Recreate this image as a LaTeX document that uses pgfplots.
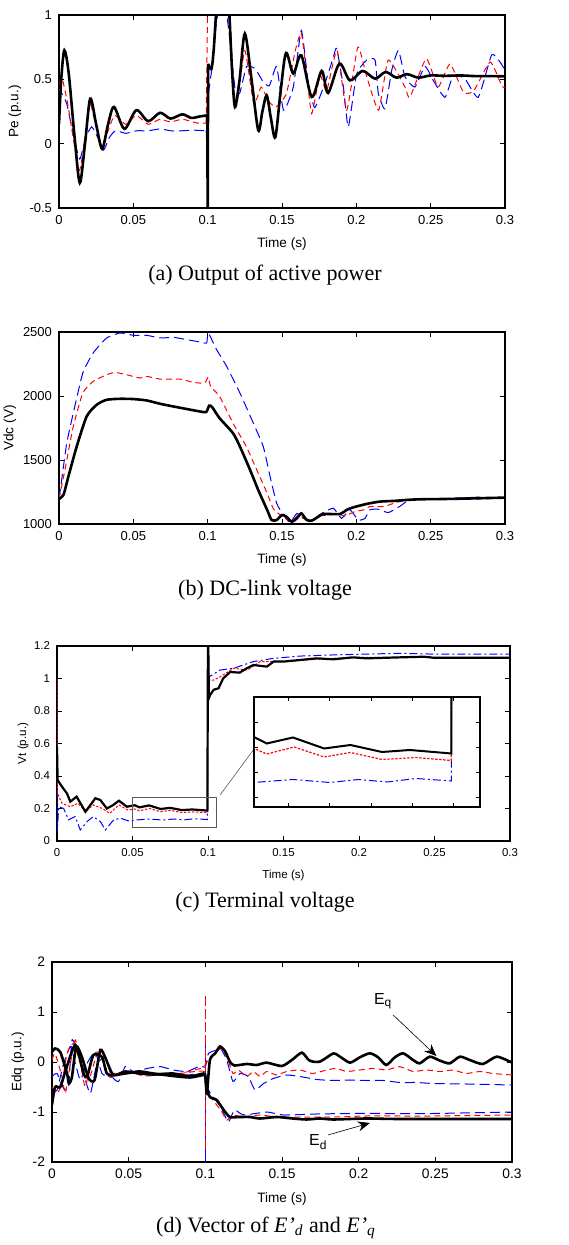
\documentclass[border=0pt]{standalone}
\usepackage{fontspec}
\setmainfont{Liberation Serif}
\newfontfamily\arial{Liberation Sans}
\usepackage{pgfplots}
\usepackage{pgfplotstable}
\pgfplotsset{compat=1.18}
\usetikzlibrary{arrows.meta}

% panel (c) series, reused in the inset
\pgfplotstableread{
t v
0 0.58
0.0004 0.375
0.0033 0.334
0.0066 0.293
0.0088 0.242
0.013 0.273
0.0188 0.18
0.0254 0.263
0.0287 0.252
0.033 0.2
0.037 0.22
0.041 0.248
0.0463 0.211
0.0515 0.22
0.0546 0.207
0.061 0.219
0.0686 0.197
0.075 0.204
0.0827 0.19
0.0895 0.194
0.0996 0.187
0.1 1.35
0.1006 0.88
0.1015 0.9
0.1037 0.93
0.107 0.94
0.11 1.0
0.1147 1.04
0.121 1.036
0.1257 1.063
0.13 1.083
0.139 1.073
0.1434 1.104
0.15 1.104
0.161 1.114
0.172 1.124
0.183 1.118
0.196 1.13
0.205 1.124
0.227 1.13
0.243 1.134
0.249 1.128
0.3 1.128
}\vtblack
\pgfplotstableread{
t v
0 1.0
0.0003 0.293
0.0033 0.232
0.0088 0.211
0.014 0.232
0.0188 0.18
0.024 0.222
0.03 0.2
0.035 0.17
0.041 0.222
0.047 0.19
0.0515 0.197
0.0546 0.186
0.0613 0.2
0.0686 0.18
0.075 0.189
0.0827 0.175
0.091 0.179
0.0996 0.173
0.1 1.3
0.1006 0.99
0.1037 0.99
0.108 1.01
0.117 1.063
0.126 1.052
0.1346 1.104
0.15 1.104
0.172 1.118
0.194 1.13
0.3 1.13
}\vtred
\pgfplotstableread{
t v
0 1.0
0.0003 0.068
0.0011 0.211
0.0044 0.2
0.0077 0.13
0.012 0.15
0.0154 0.068
0.02 0.12
0.024 0.15
0.0287 0.12
0.032 0.068
0.0375 0.13
0.042 0.14
0.0485 0.12
0.0515 0.129
0.0546 0.131
0.061 0.135
0.07 0.129
0.077 0.135
0.084 0.13
0.091 0.137
0.0996 0.132
0.1 1.3
0.1006 1.01
0.108 1.052
0.117 1.063
0.13 1.104
0.1434 1.124
0.161 1.138
0.183 1.145
0.205 1.15
0.227 1.155
0.249 1.15
0.3 1.15
}\vtblue

\pgfplotsset{
  mat/.style={
    scale only axis, anchor=south west,
    xmin=0, xmax=0.3,
    xtick={0,0.05,0.1,0.15,0.2,0.25,0.3},
    tick align=inside, major tick length=2.5pt,
    axis line style={line width=0.6pt},
    every tick/.style={black, line width=0.4pt},
    scaled ticks=false,
    /pgf/number format/fixed,
    /pgf/number format/1000 sep={},
    /pgf/number format/assume math mode=true,
    tick label style={font=\arial\fontsize{6.5}{7}\selectfont},
    label style={font=\arial\fontsize{6.8}{8}\selectfont},
    xlabel={Time (s)},
  },
  ylab/.style={ylabel style={at={(axis description cs:#1,0.5)}, anchor=center}},
  blk/.style={black, line width=1.3pt},
  rd/.style={red, line width=0.5pt, dash pattern=on 3pt off 2pt},
  bl/.style={blue, line width=0.5pt, dash pattern=on 5pt off 2.5pt},
}

\begin{document}
\begin{tikzpicture}
\useasboundingbox (0,0) rectangle (284pt,622.5pt);

% ---------------- (a)
\begin{axis}[mat, at={(29.5pt,518.5pt)}, width=223pt, height=96.5pt,
  ymin=-0.5, ymax=1, ytick={-0.5,0,0.5,1}, ylabel={Pe (p.u.)}, ylab=-0.099]
\addplot[bl, smooth, tension=0.3] coordinates {(0,0.45)(0.0015,0.4)(0.0052,0.31)(0.01,0.05)(0.014,-0.12)(0.018,0.05)(0.022,0.13)(0.026,0.05)(0.03,-0.05)(0.034,0.05)(0.038,0.10)(0.045,0.08)(0.052,0.10)(0.06,0.10)(0.068,0.115)(0.075,0.10)(0.083,0.10)(0.09,0.105)(0.099,0.1)};
\addplot[bl] coordinates {(0.099,0.1)(0.1,-0.15)(0.1005,0.39)};
\addplot[bl, smooth, tension=0.3] coordinates {(0.1005,0.39)(0.103,0.6)(0.106,0.95)(0.11,1.2)(0.114,0.9)(0.1184,0.43)(0.1215,0.39)(0.1262,0.6)(0.132,0.58)(0.1374,0.48)(0.1415,0.45)(0.1464,0.6)(0.151,0.26)(0.1576,0.44)(0.163,0.88)(0.1677,0.47)(0.172,0.28)(0.1789,0.47)(0.1845,0.67)(0.1868,0.74)(0.1913,0.44)(0.1946,0.13)(0.2002,0.54)(0.207,0.65)(0.2126,0.65)(0.2148,0.39)(0.2193,0.27)(0.2238,0.57)(0.2283,0.725)(0.2327,0.52)(0.2394,0.44)(0.2462,0.6)(0.2518,0.49)(0.2596,0.36)(0.2652,0.53)(0.273,0.505)(0.282,0.36)(0.291,0.69)(0.2966,0.635)(0.3,0.57)};
\addplot[rd, smooth, tension=0.3] coordinates {(0,0.3)(0.0008,0.5)(0.0025,0.49)(0.006,0.3)(0.0135,-0.21)(0.0175,0.05)(0.021,0.31)(0.0255,0.1)(0.029,-0.03)(0.033,0.1)(0.0375,0.22)(0.045,0.15)(0.052,0.22)(0.060,0.15)(0.068,0.19)(0.075,0.168)(0.083,0.19)(0.093,0.16)(0.099,0.16)};
\addplot[rd] coordinates {(0.099,0.16)(0.1,1.1)(0.1005,1.1)};
\addplot[rd, smooth, tension=0.3] coordinates {(0.1005,1.1)(0.105,1.3)(0.11,1.4)(0.1146,1.1)(0.1173,0.44)(0.12,0.34)(0.125,0.725)(0.131,0.31)(0.136,0.44)(0.141,0.33)(0.146,0.285)(0.153,0.39)(0.159,0.725)(0.163,0.86)(0.167,0.5)(0.17,0.233)(0.1756,0.53)(0.18,0.41)(0.187,0.725)(0.1935,0.26)(0.201,0.75)(0.207,0.52)(0.215,0.26)(0.2215,0.65)(0.2327,0.44)(0.236,0.36)(0.247,0.66)(0.255,0.44)(0.263,0.62)(0.272,0.40)(0.279,0.41)(0.29,0.635)(0.298,0.445)(0.3,0.44)};
\addplot[blk, smooth] coordinates {(0,0.15)(0.0015,0.5)(0.0036,0.725)(0.0065,0.55)(0.0105,0.05)(0.014,-0.305)(0.0175,0.0)(0.021,0.35)(0.025,0.15)(0.029,-0.04)(0.033,0.15)(0.037,0.285)(0.044,0.115)(0.052,0.26)(0.060,0.175)(0.068,0.24)(0.075,0.195)(0.083,0.228)(0.089,0.2)(0.095,0.212)(0.0998,0.22)};
\addplot[blk] coordinates {(0.0998,0.22)(0.1,-0.6)(0.1003,0.62)};
\addplot[blk, smooth] coordinates {(0.1003,0.62)(0.1025,0.58)(0.104,0.72)(0.1056,1.0)(0.108,1.35)(0.111,1.4)(0.1135,1.2)(0.1146,1.0)(0.1165,0.55)(0.1184,0.285)(0.1215,0.5)(0.125,0.855)(0.1295,0.5)(0.134,0.105)(0.1368,0.25)(0.1397,0.375)(0.1425,0.2)(0.1455,0.05)(0.149,0.4)(0.1527,0.705)(0.1576,0.545)(0.163,0.686)(0.170,0.363)(0.1767,0.565)(0.181,0.394)(0.1886,0.622)(0.1957,0.492)(0.2043,0.565)(0.2126,0.505)(0.2197,0.557)(0.227,0.513)(0.234,0.54)(0.2417,0.513)(0.25,0.53)(0.26,0.527)(0.27,0.53)(0.28,0.525)(0.29,0.525)(0.3,0.523)};
\end{axis}
\node[font=\fontsize{11}{13}\selectfont] at (132.5pt,485pt) {(a) Output of active power};

% ---------------- (b)
\begin{axis}[mat, at={(29.5pt,360.5pt)}, width=223pt, height=96pt,
  ymin=1000, ymax=2500, ytick={1000,1500,2000,2500}, ylabel={Vdc (V)}, ylab=-0.110]
\addplot[bl, smooth, tension=0.3] coordinates {(0,1196)(0.0018,1344)(0.0052,1631)(0.0096,1866)(0.016,2179)(0.023,2336)(0.032,2453)(0.041,2492)(0.05,2474)(0.059,2474)(0.068,2453)(0.077,2458)(0.086,2440)(0.0948,2422)(0.0993,2414)(0.1004,2492)(0.106,2362)(0.1128,2231)(0.1217,2023)(0.1307,1788)(0.1374,1605)(0.142,1370)(0.1464,1162)(0.151,1070)(0.1554,1010)(0.16,1083)(0.1643,1044)(0.17,1026)(0.1767,1083)(0.1845,1123)(0.19,1044)(0.1957,1110)(0.2013,1031)(0.2058,1044)(0.209,1110)(0.2148,1115)(0.2215,1089)(0.229,1136)(0.236,1188)(0.252,1193)(0.281,1209)(0.3,1201)};
\addplot[rd, smooth, tension=0.3] coordinates {(0,1196)(0.004,1423)(0.0096,1762)(0.016,2023)(0.023,2114)(0.032,2166)(0.0377,2184)(0.0455,2166)(0.0545,2140)(0.059,2153)(0.068,2132)(0.0814,2132)(0.0904,2106)(0.098,2101)(0.1004,2148)(0.102,2075)(0.108,1997)(0.117,1788)(0.126,1605)(0.133,1423)(0.14,1240)(0.144,1123)(0.1475,1083)(0.152,1044)(0.1565,1018)(0.161,1070)(0.165,1044)(0.17,1031)(0.1756,1063)(0.182,1070)(0.1868,1083)(0.192,1063)(0.1991,1097)(0.2047,1110)(0.209,1136)(0.216,1136)(0.22,1141)(0.229,1175)(0.243,1193)(0.274,1193)(0.3,1201)};
\addplot[blk, smooth, tension=0.4] coordinates {(0,1196)(0.003,1227)(0.0063,1370)(0.0119,1605)(0.0186,1840)(0.0253,1931)(0.032,1970)(0.041,1978)(0.05,1976)(0.059,1965)(0.068,1939)(0.077,1918)(0.086,1898)(0.0948,1879)(0.099,1874)(0.101,1924)(0.103,1913)(0.108,1827)(0.117,1710)(0.1217,1605)(0.1285,1423)(0.134,1266)(0.14,1110)(0.143,1031)(0.1464,1031)(0.15,1070)(0.153,1057)(0.1565,1018)(0.16,1044)(0.163,1083)(0.1666,1031)(0.17,1026)(0.1744,1057)(0.1778,1078)(0.189,1078)(0.1935,1110)(0.198,1130)(0.207,1157)(0.216,1175)(0.225,1180)(0.234,1188)(0.243,1193)(0.263,1196)(0.3,1206)};
\end{axis}
\node[font=\fontsize{11}{13}\selectfont] at (132.5pt,327.5pt) {(b) DC-link voltage};

% ---------------- (c)
\begin{axis}[mat, at={(28.5pt,202pt)}, width=226.5pt, height=97.5pt,
  ymin=0, ymax=1.2, ytick={0,0.2,0.4,0.6,0.8,1,1.2}, ylabel={Vt (p.u.)}, ylab=-0.075,
  tick label style={font=\arial\fontsize{5.7}{6}\selectfont},
  label style={font=\arial\fontsize{5.8}{7}\selectfont}]
\addplot[blue, line width=0.5pt, dash pattern=on 4pt off 1.5pt on 1pt off 1.5pt] table[x=t,y=v] {\vtblue};
\addplot[red, line width=0.5pt, dash pattern=on 1.2pt off 0.8pt] table[x=t,y=v] {\vtred};
\addplot[black, line width=1.1pt] table[x=t,y=v] {\vtblack};
\draw[gray!70!black, line width=0.5pt] (axis cs:0.05,0.08) rectangle (axis cs:0.1055,0.27);
\draw[gray!70!black, line width=0.3pt] (axis cs:0.108,0.283) -- (axis cs:0.1305,0.566);
\end{axis}
\begin{axis}[at={(127pt,219pt)}, anchor=south west, scale only axis,
  width=113pt, height=55pt, xmin=0.0515, xmax=0.1066, ymin=0.08, ymax=0.30,
  xtick={0.06,0.07,0.08,0.09,0.1}, ytick={0.1,0.15,0.2,0.25},
  xticklabels={}, yticklabels={}, tick align=inside, major tick length=2pt,
  axis line style={line width=0.6pt}, every tick/.style={black, line width=0.4pt},
  axis background/.style={fill=white}]
\addplot[blue, line width=0.5pt, dash pattern=on 4pt off 1.5pt on 1pt off 1.5pt] table[x=t,y=v] {\vtblue};
\addplot[red, line width=0.6pt, dash pattern=on 1.2pt off 0.8pt] table[x=t,y=v] {\vtred};
\addplot[black, line width=1pt] table[x=t,y=v] {\vtblack};
\end{axis}
\node[font=\fontsize{11}{13}\selectfont] at (132.5pt,171.5pt) {(c) Terminal voltage};

% ---------------- (d)
\begin{axis}[mat, at={(26pt,41.5pt)}, width=230pt, height=100pt,
  ymin=-2, ymax=2, ytick={-2,-1,0,1,2}, ylabel={Edq (p.u.)}, ylab=-0.074,
  tick label style={font=\arial\fontsize{6.9}{7}\selectfont}]
% E_q group
\addplot[bl, smooth, tension=0.3] coordinates {(0,-0.29)(0.0033,-0.23)(0.0076,-0.53)(0.0108,-0.5)(0.013,0.44)(0.0174,0.17)(0.0206,-0.23)(0.025,-0.63)(0.0293,-0.03)(0.0347,0.07)(0.039,-0.29)(0.0434,-0.39)(0.0478,-0.09)(0.053,-0.19)(0.062,-0.13)(0.0705,-0.09)(0.079,-0.16)(0.088,-0.19)(0.0966,-0.08)(0.1,-0.1)(0.102,0.17)(0.1074,0.24)(0.11,0.27)(0.114,0.04)(0.118,-0.39)(0.1226,-0.23)(0.128,-0.29)(0.1324,-0.56)(0.138,-0.43)(0.1443,-0.33)(0.153,-0.26)(0.1617,-0.29)(0.1726,-0.35)(0.1834,-0.37)(0.194,-0.36)(0.205,-0.37)(0.216,-0.37)(0.2268,-0.41)(0.2377,-0.41)(0.2485,-0.43)(0.27,-0.44)(0.3,-0.46)};
\addplot[rd, smooth, tension=0.3] coordinates {(0,0.04)(0.002,0.17)(0.0065,-0.29)(0.0087,-0.63)(0.012,-0.03)(0.0152,0.44)(0.0195,-0.03)(0.024,-0.36)(0.0293,0.17)(0.0326,0.1)(0.037,-0.29)(0.041,-0.29)(0.049,-0.19)(0.06,-0.28)(0.0705,-0.26)(0.0835,-0.23)(0.0966,-0.13)(0.0992,-0.09)(0.102,0.04)(0.1064,0.17)(0.11,0.27)(0.114,0.107)(0.118,-0.23)(0.1215,-0.16)(0.127,-0.29)(0.1313,-0.19)(0.1357,-0.29)(0.14,-0.19)(0.1465,-0.26)(0.153,-0.19)(0.1617,-0.16)(0.17,-0.23)(0.179,-0.16)(0.1856,-0.127)(0.192,-0.19)(0.2008,-0.16)(0.2095,-0.127)(0.218,-0.16)(0.2268,-0.094)(0.2355,-0.19)(0.244,-0.16)(0.253,-0.19)(0.2616,-0.16)(0.27,-0.23)(0.279,-0.19)(0.2876,-0.23)(0.3,-0.26)};
% E_d group
\addplot[bl, smooth, tension=0.3] coordinates {(0,-0.63)(0.0033,-0.56)(0.0076,-0.03)(0.012,0.31)(0.0152,-0.03)(0.0185,-0.36)(0.0228,-0.03)(0.0282,0.2)(0.0326,-0.23)(0.038,-0.29)(0.0445,-0.23)(0.0575,-0.23)(0.075,-0.23)(0.088,-0.26)(0.0988,-0.24)(0.102,-0.56)(0.11,-0.9)(0.115,-1.2)(0.119,-0.96)(0.125,-1.06)(0.14,-1.0)(0.151,-1.06)(0.1726,-1.04)(0.194,-1.03)(0.216,-1.03)(0.2485,-1.03)(0.3,-1.0)};
\addplot[rd, smooth, tension=0.3] coordinates {(0,-0.5)(0.0033,-0.63)(0.0065,-0.43)(0.0098,0.17)(0.014,0.37)(0.0185,-0.03)(0.0217,-0.5)(0.026,0.1)(0.0304,0.2)(0.0358,-0.16)(0.041,-0.23)(0.053,-0.23)(0.066,-0.26)(0.0835,-0.23)(0.0992,-0.19)(0.102,-0.63)(0.11,-0.96)(0.114,-1.16)(0.118,-1.06)(0.125,-1.1)(0.1357,-1.06)(0.1465,-1.1)(0.1617,-1.1)(0.1834,-1.1)(0.205,-1.08)(0.2268,-1.08)(0.2485,-1.08)(0.3,-1.06)};
\addplot[blue, line width=0.6pt] coordinates {(0.1,0.54)(0.1,-2.1)};
\addplot[red, line width=0.7pt, dash pattern=on 5pt off 1.5pt] coordinates {(0.1,1.32)(0.1,-1.8)};
\addplot[blk, smooth, tension=0.4] coordinates {(0,0.2)(0.002,0.27)(0.0054,0.2)(0.0098,-0.23)(0.011,-0.43)(0.013,-0.3)(0.0158,0.31)(0.0195,0.1)(0.024,-0.33)(0.0278,-0.36)(0.0315,0.24)(0.035,0.07)(0.04,-0.26)(0.0478,-0.19)(0.0575,-0.23)(0.066,-0.25)(0.079,-0.23)(0.09,-0.29)(0.0988,-0.23)(0.1,-0.29)(0.101,-0.63)(0.103,0.04)(0.1064,0.17)(0.1096,0.31)(0.113,0.21)(0.116,0.007)(0.119,-0.07)(0.127,-0.04)(0.1335,-0.06)(0.14,-0.013)(0.15,-0.08)(0.157,0.054)(0.163,0.187)(0.168,0.027)(0.1747,0.007)(0.1834,0.17)(0.1878,0.107)(0.1943,-0.013)(0.2008,0.094)(0.2073,0.174)(0.2127,0.094)(0.218,-0.06)(0.2236,0.094)(0.229,0.174)(0.2355,0.04)(0.2398,-0.027)(0.2464,0.107)(0.253,0.027)(0.2594,-0.027)(0.266,0.107)(0.2724,0.04)(0.281,-0.04)(0.29,0.107)(0.3,-0.013)};
\addplot[blk, smooth, tension=0.4] coordinates {(0,-0.86)(0.002,-0.5)(0.0054,-0.5)(0.0087,-0.19)(0.0152,0.34)(0.0206,-0.23)(0.023,-0.29)(0.027,0.14)(0.0326,0.1)(0.0358,-0.23)(0.041,-0.26)(0.0478,-0.23)(0.0575,-0.19)(0.066,-0.23)(0.079,-0.28)(0.09,-0.31)(0.0988,-0.26)(0.1,-0.29)(0.101,-0.53)(0.103,-0.7)(0.1074,-0.76)(0.112,-0.96)(0.116,-1.1)(0.1226,-1.1)(0.129,-1.1)(0.1357,-1.13)(0.1465,-1.1)(0.157,-1.13)(0.166,-1.15)(0.1747,-1.13)(0.1834,-1.15)(0.205,-1.13)(0.2268,-1.14)(0.3,-1.14)};
\draw[-{Stealth[length=6pt,width=5pt]}, line width=0.3pt] (axis cs:0.2225,0.94) -- (axis cs:0.2507,0.12);
\draw[-{Stealth[length=6pt,width=5pt]}, line width=0.3pt] (axis cs:0.18,-1.46) -- (axis cs:0.2073,-1.22);
\node[font=\arial\fontsize{8}{9}\selectfont] at (axis cs:0.216,1.22) {E\textsubscript{q}};
\node[font=\arial\fontsize{8}{9}\selectfont] at (axis cs:0.1737,-1.6) {E\textsubscript{d}};
\end{axis}
\node[font=\fontsize{11}{13}\selectfont] at (133pt,8.5pt) {(d) Vector of \textit{E’}\textsubscript{\textit{d}} and \textit{E’}\textsubscript{\textit{q}}};
\end{tikzpicture}
\end{document}
